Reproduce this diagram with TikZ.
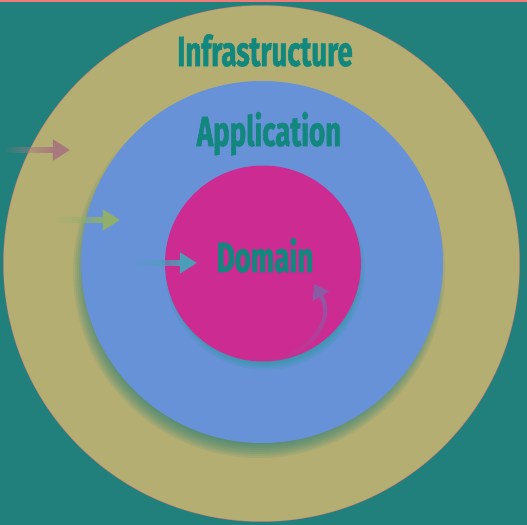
\documentclass[tikz,border=0pt]{standalone}
\usepackage{fontspec}
\newfontfamily\layerfont[FakeStretch=0.66, FakeBold=1.2]{Fira Sans}
\usetikzlibrary{arrows.meta,fadings}
\definecolor{bgteal}{HTML}{21807B}
\definecolor{topline}{HTML}{F07A78}
\definecolor{infrafill}{HTML}{B4AE72}
\definecolor{applfill}{HTML}{6892D8}
\definecolor{domfill}{HTML}{CC2C91}
\definecolor{labelteal}{HTML}{12877D}
\definecolor{shadowteal}{HTML}{1C7A74}
\definecolor{domshadow}{HTML}{1E9A94}
\definecolor{arrmauve}{HTML}{A8787F}
\definecolor{arrgreen}{HTML}{8FAF6A}
\definecolor{arrblue}{HTML}{4C9EB8}
\definecolor{arrpurple}{HTML}{8A5CA6}
\begin{document}
\begin{tikzpicture}[x=0.5pt, y=-0.5pt,
	layer/.style={font=\layerfont\bfseries\fontsize{21}{21}\selectfont, text=labelteal, anchor=base, inner sep=0pt},
	shaft/.style={line width=3pt, path fading=west},
	head/.style={line width=3pt, -{Triangle[length=8.5pt, width=10pt]}}]
	\useasboundingbox (0, 0) rectangle (527, 525);
	\fill[bgteal] (0, 0) rectangle (527, 525);
	\fill[topline] (0, 0) rectangle (527, 2);

	% rings
	\fill[infrafill] (261.5, 263.5) circle (258);
	\draw[topline, line width=0.4pt, opacity=0.5] (261.5, 263.5) circle (258);
	\foreach \r in {172, 174, ..., 186}
		\fill[shadowteal, opacity=0.1] (259, 272) circle (\r);
	\fill[applfill] (262, 262) circle (181);
	\foreach \r in {90, 92, ..., 100}
		\fill[domshadow, opacity=0.15] (265, 270) circle (\r);
	\fill[domfill] (263, 263.5) circle (98);

	% labels
	\node[layer] (infra) at (265, 66) {Infrastructure};
	\node[layer] (app) at (269, 146) {Application};
	\node[layer] (dom) at (265, 272) {Domain};

	% dependencies point inwards
	\coordinate (i1) at (5, 150);
	\coordinate (ib) at (54, 150);
	\coordinate (i2) at (70, 150);
	\coordinate (a1) at (55, 220);
	\coordinate (ab) at (104, 220);
	\coordinate (a2) at (120, 220);
	\coordinate (d1) at (130, 263);
	\coordinate (db) at (181, 263);
	\coordinate (d2) at (197, 263);
	\draw[shaft, arrmauve] (i1) -- (ib);
	\draw[head, arrmauve] (ib) -- (i2);
	\draw[shaft, arrgreen] (a1) -- (ab);
	\draw[head, arrgreen] (ab) -- (a2);
	\draw[shaft, arrblue] (d1) -- (db);
	\draw[head, arrblue] (db) -- (d2);

	\coordinate (s1) at (266, 361);
	\coordinate (sb) at (322, 298);
	\coordinate (s2) at (314, 284);
	\draw[arrpurple, line width=2pt, path fading=south] (s1) .. controls (312, 356) and (334, 318) .. (sb);
	\draw[arrpurple, line width=2pt, -{Triangle[length=7pt, width=9pt]}] (sb) -- (s2);
\end{tikzpicture}
\end{document}
